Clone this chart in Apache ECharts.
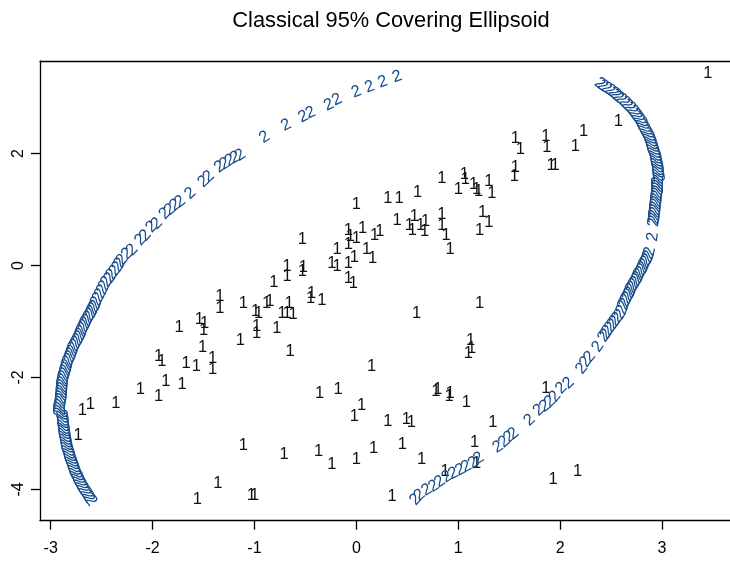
<!DOCTYPE html>
<html><head><meta charset="utf-8">
<script src="https://cdn.jsdelivr.net/npm/echarts@6/dist/echarts.min.js"></script>
<style>html,body{margin:0;padding:0;background:#fff}#c{width:730px;height:562px}</style>
</head><body><div id="c"></div>
<script>
const titleText = 'Classical 95% Covering Ellipsoid';
const xTicks = [-3, -2, -1, 0, 1, 2, 3];
const yTicks = [-4, -2, 0, 2];

// observations (label "1")
const group1 = [
[3.45,3.43],[2.57,2.57],[2.23,2.40],[2.15,2.12],[1.86,2.31],[1.87,2.11],[1.56,2.27],[1.61,2.07],[1.91,1.79],[1.95,1.79],[1.56,1.75],[1.55,1.59],
[0.84,1.56],[1.06,1.63],[1.07,1.53],[1.00,1.36],[1.15,1.44],[1.18,1.36],[1.20,1.32],[1.30,1.50],[1.33,1.29],[0.60,1.31],[0.31,1.19],[0.42,1.20],
[0.06,0.66],[0.18,0.54],[0.23,0.60],[0.40,0.80],[0.52,0.72],[0.55,0.63],[0.57,0.87],[0.63,0.72],[0.67,0.60],[0.68,0.78],[0.84,0.92],[0.84,0.72],
[0.88,0.53],[0.92,0.29],[1.24,0.95],[1.30,0.76],[1.21,0.63],[0.10,0.29],[0.16,0.13],[1.21,-0.68],[0.59,-0.85],
[0.00,1.09],[-0.53,0.47],[-0.08,0.63],[-0.06,0.52],[-0.08,0.37],[0.00,0.49],[-0.19,0.28],[-0.68,-0.02],[-0.68,-0.20],[-0.52,-0.03],[-0.53,-0.10],
[-0.81,-0.31],[-0.24,0.04],[-0.19,-0.01],[-0.08,0.04],[-0.02,0.15],[-0.08,-0.23],[-0.03,-0.32],
[-1.34,-0.56],[-1.34,-0.76],[-1.11,-0.68],[-0.99,-0.82],[-0.96,-0.85],[-0.88,-0.68],[-0.85,-0.65],[-0.73,-0.85],[-0.68,-0.85],[-0.62,-0.87],
[-0.66,-0.68],[-0.45,-0.59],[-0.44,-0.50],[-0.34,-0.62],
[-1.74,-1.10],[-1.54,-0.97],[-1.49,-1.03],[-1.50,-1.16],[-1.14,-1.34],[-0.98,-1.09],[-0.98,-1.21],[-0.78,-1.12],[-0.65,-1.54],[-1.51,-1.46],
[-1.94,-1.63],[-1.91,-1.72],[-1.67,-1.75],[-1.57,-1.81],[-1.41,-1.66],[-1.41,-1.85],[-1.87,-2.07],[-1.71,-2.12],[-2.12,-2.21],[-1.94,-2.34],
[-2.36,-2.46],[-2.69,-2.59],[-2.61,-2.49],[-2.73,-3.04],
[-0.36,-2.28],[-0.18,-2.21],[0.05,-2.50],[-0.02,-2.70],[-1.11,-3.22],[-0.71,-3.38],[-0.37,-3.32],[-0.24,-3.56],[0.00,-3.47],[-1.36,-3.90],
[-1.56,-4.18],[-1.03,-4.10],[-1.00,-4.10],
[1.12,-1.33],[1.13,-1.48],[1.10,-1.57],[0.15,-1.81],[0.78,-2.25],[0.80,-2.21],[0.91,-2.34],[0.92,-2.29],[1.08,-2.45],[0.31,-2.79],[0.49,-2.75],
[0.54,-2.81],[1.34,-2.81],[1.86,-2.19],[0.17,-3.26],[0.45,-3.19],[1.16,-3.16],[0.64,-3.46],[0.87,-3.68],[1.18,-3.53],[0.35,-4.13],[1.93,-3.82],[2.17,-3.68]
];

// ellipse points (label "2"), left arc from top to bottom
const ellipseLeft = [
[0.40,3.37],[0.26,3.28],[0.13,3.19],[0.00,3.10],[-0.19,2.96],[-0.27,2.87],[-0.45,2.73],[-0.52,2.66],[-0.69,2.51],[-0.90,2.29],
[-1.14,1.97],[-1.19,1.93],[-1.24,1.88],[-1.29,1.82],[-1.34,1.76],[-1.45,1.59],[-1.50,1.50],[-1.63,1.29],[-1.73,1.14],[-1.78,1.08],
[-1.83,1.00],[-1.88,0.93],[-1.96,0.75],[-2.01,0.69],[-2.07,0.54],[-2.12,0.46],[-2.20,0.28],[-2.25,0.21],
[-2.30,0.10],[-2.32,0.05],[-2.34,-0.02],[-2.37,-0.09],[-2.40,-0.16],[-2.42,-0.22],[-2.45,-0.29],[-2.47,-0.36],[-2.49,-0.43],[-2.51,-0.50],
[-2.53,-0.57],[-2.55,-0.64],[-2.56,-0.70],[-2.575,-0.75],[-2.59,-0.80],[-2.60,-0.85],[-2.62,-0.90],[-2.635,-0.95],[-2.65,-1.00],[-2.66,-1.05],
[-2.675,-1.10],[-2.69,-1.15],[-2.70,-1.20],[-2.71,-1.25],[-2.725,-1.30],[-2.74,-1.35],[-2.755,-1.40],[-2.77,-1.45],[-2.78,-1.50],[-2.79,-1.55],
[-2.80,-1.60],[-2.81,-1.65],[-2.825,-1.70],[-2.835,-1.75],[-2.84,-1.80],[-2.85,-1.85],[-2.855,-1.90],[-2.865,-1.95],[-2.87,-2.00],[-2.875,-2.05],
[-2.88,-2.10],[-2.88,-2.15],[-2.885,-2.20],[-2.885,-2.25],[-2.89,-2.30],[-2.89,-2.35],[-2.895,-2.40],[-2.90,-2.45],[-2.90,-2.50],[-2.90,-2.55],
[-2.90,-2.60],[-2.90,-2.65],[-2.895,-2.70],[-2.89,-2.75],[-2.89,-2.80],[-2.885,-2.85],[-2.88,-2.90],[-2.88,-2.95],[-2.875,-3.00],[-2.87,-3.05],
[-2.865,-3.10],[-2.86,-3.15],[-2.855,-3.20],[-2.85,-3.25],[-2.84,-3.30],[-2.83,-3.35],[-2.825,-3.40],[-2.815,-3.45],[-2.805,-3.50],[-2.795,-3.55],
[-2.785,-3.60],[-2.775,-3.65],[-2.765,-3.70],[-2.75,-3.75],[-2.74,-3.80],[-2.725,-3.85],[-2.71,-3.90],[-2.695,-3.95],[-2.68,-4.00],[-2.66,-4.05],
[-2.64,-4.10],[-2.625,-4.15],[-2.605,-4.20]
];

// ellipse points (label "2"), right arc from top to bottom
const ellipseRight = [
[2.39,3.25],[2.42,3.21],[2.455,3.17],[2.49,3.13],[2.52,3.09],[2.545,3.05],[2.57,3.01],[2.60,2.97],[2.63,2.92],[2.655,2.87],
[2.685,2.82],[2.71,2.77],[2.73,2.72],[2.75,2.67],[2.77,2.62],[2.79,2.57],[2.80,2.52],[2.815,2.47],[2.83,2.42],[2.845,2.37],
[2.86,2.32],[2.87,2.27],[2.88,2.22],[2.89,2.17],[2.895,2.12],[2.905,2.07],[2.915,2.02],[2.925,1.97],[2.93,1.92],[2.935,1.87],
[2.94,1.82],[2.945,1.77],[2.95,1.72],[2.95,1.67],[2.955,1.62],[2.96,1.57],[2.96,1.52],[2.96,1.47],[2.96,1.42],[2.96,1.37],
[2.96,1.32],[2.955,1.27],[2.95,1.22],[2.95,1.17],[2.945,1.12],[2.94,1.07],[2.94,1.02],[2.935,0.97],[2.93,0.92],[2.93,0.87],
[2.925,0.82],[2.92,0.77],[2.91,0.51],
[2.88,0.25],[2.87,0.19],[2.86,0.13],[2.845,0.08],[2.83,0.04],[2.82,-0.01],[2.81,-0.05],[2.795,-0.10],[2.78,-0.14],[2.77,-0.19],
[2.76,-0.23],[2.745,-0.28],[2.73,-0.32],[2.715,-0.37],[2.70,-0.41],[2.69,-0.46],[2.68,-0.50],[2.665,-0.55],[2.65,-0.60],[2.635,-0.66],
[2.625,-0.71],[2.61,-0.79],[2.59,-0.87],[2.565,-0.93],[2.54,-0.99],[2.52,-1.04],[2.495,-1.10],[2.47,-1.16],[2.45,-1.22],[2.43,-1.27],
[2.37,-1.45],[2.29,-1.63],[2.25,-1.72],[2.21,-1.84],[2.08,-2.10],[2.01,-2.19],[1.95,-2.34],[1.90,-2.43],[1.85,-2.51],[1.79,-2.58],
[1.70,-2.76],[1.54,-3.00],[1.50,-3.06],[1.45,-3.15],[1.39,-3.24],[1.20,-3.44],[1.15,-3.52],[1.08,-3.59],[1.02,-3.65],[0.95,-3.71],
[0.89,-3.77],[0.82,-3.86],[0.76,-3.94],[0.69,-4.01],[0.62,-4.10],[0.58,-4.18]
];

const FONT = '"Liberation Sans", Arial, Helvetica, sans-serif';
const BLUE = '#174c8c';
const X_MIN = -3.105, X_MAX = 3.667, Y_MIN = -4.557, Y_MAX = 3.652;

function glyphSeries(name, items, ch, color) {
  return {
    name: name, type: 'scatter', xAxisIndex: 0, yAxisIndex: 0, data: items, silent: true,
    symbol: 'circle', symbolSize: 1, itemStyle: { color: 'rgba(0,0,0,0)' },
    label: { show: true, position: 'inside', formatter: ch, color: color, fontSize: 16.5, fontFamily: FONT,
             align: 'center', verticalAlign: 'middle', opacity: 1 },
    labelLayout: { hideOverlap: false },
    emphasis: { disabled: true }
  };
}

// text angle (degrees, anticlockwise) following the arc through the neighbours, kept upright
function tangentItems(chart, arr) {
  return arr.map(function (p, i) {
    const a = chart.convertToPixel({ gridIndex: 0 }, arr[Math.max(i - 1, 0)]);
    const b = chart.convertToPixel({ gridIndex: 0 }, arr[Math.min(i + 1, arr.length - 1)]);
    let ang = Math.atan2(-(b[1] - a[1]), b[0] - a[0]) * 180 / Math.PI;
    if (ang > 90) ang -= 180;
    if (ang <= -90) ang += 180;
    return { value: p, label: { rotate: ang } };
  });
}

const lineStyle = { color: '#000', width: 1.3 };
const chart = echarts.init(document.getElementById('c'), null, { renderer: 'canvas' });
const option = {
  animation: false,
  backgroundColor: '#fff',
  graphic: [{
    type: 'text', x: 391, y: 21,
    style: { text: titleText, fontSize: 21.8, fontFamily: FONT, fill: '#000', align: 'center', verticalAlign: 'middle' }
  }],
  grid: { left: 40, right: 0, top: 61, bottom: 41.3, containLabel: false, outerBoundsMode: 'none' },
  xAxis: [{
    type: 'value', min: X_MIN, max: X_MAX, position: 'bottom',
    axisLine: { show: true, onZero: false, lineStyle: lineStyle },
    axisTick: { show: true, length: 9, customValues: xTicks, lineStyle: lineStyle },
    axisLabel: { show: true, customValues: xTicks, margin: 20, fontSize: 16, color: '#000', fontFamily: FONT },
    splitLine: { show: false }
  }, {
    type: 'value', min: X_MIN, max: X_MAX, position: 'top',
    axisLine: { show: true, onZero: false, lineStyle: lineStyle },
    axisTick: { show: false }, axisLabel: { show: false }, splitLine: { show: false }
  }],
  yAxis: [{
    type: 'value', min: Y_MIN, max: Y_MAX, position: 'left',
    axisLine: { show: true, onZero: false, lineStyle: lineStyle },
    axisTick: { show: true, length: 9, customValues: yTicks, lineStyle: lineStyle },
    axisLabel: { show: true, customValues: yTicks, rotate: 90, margin: 13, fontSize: 16, color: '#000', fontFamily: FONT },
    splitLine: { show: false }
  }],
  series: [
    glyphSeries('obs', group1, '1', '#111'),
    glyphSeries('ellL', ellipseLeft, '2', BLUE),
    glyphSeries('ellR', ellipseRight, '2', BLUE)
  ]
};
chart.setOption(option);
chart.setOption({
  series: [
    { name: 'obs' },
    { name: 'ellL', data: tangentItems(chart, ellipseLeft) },
    { name: 'ellR', data: tangentItems(chart, ellipseRight) }
  ]
});
</script>
</body></html>
